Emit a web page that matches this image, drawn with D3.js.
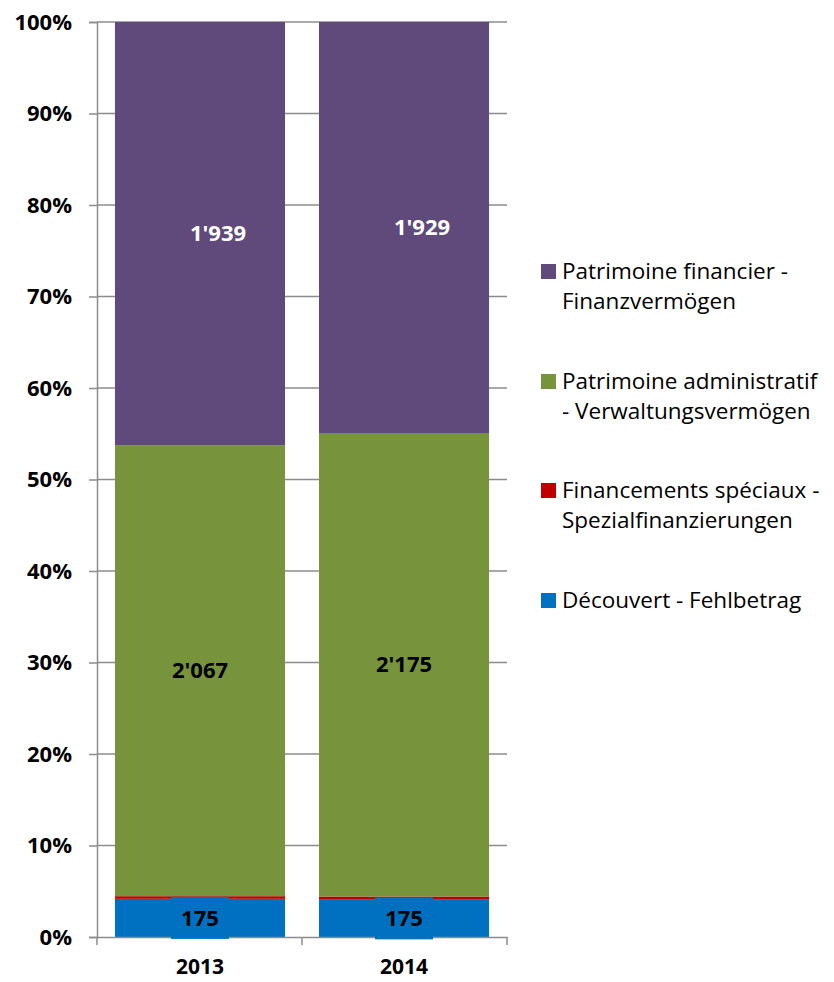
<!DOCTYPE html>
<html>
<head>
<meta charset="utf-8">
<script src="https://cdn.jsdelivr.net/npm/d3@7"></script>
<style>
  body { margin: 0; background: #fff; }
  text { font-family: "Open Sans", sans-serif; }
</style>
</head>
<body>
<div id="chart-area"></div>
<script>
// values
const years = ["2013", "2014"]
const decouvert = [175, 175]
const financements = [12, 15]
const administratif = [2067, 2175]
const financier = [1939, 1929]
const tickPct = [0, 0.1, 0.2, 0.3, 0.4, 0.5, 0.6, 0.7, 0.8, 0.9, 1]

const seriesKeys = ["dec", "fin", "adm", "pf"]
const seriesNames = [
  ["Découvert - Fehlbetrag"],
  ["Financements spéciaux -", "Spezialfinanzierungen"],
  ["Patrimoine administratif", "- Verwaltungsvermögen"],
  ["Patrimoine financier -", "Finanzvermögen"]
]
const showLabel = [true, false, true, true]
const colors = ["#0070C0", "#C00000", "#77933C", "#604A7B"]

const W = 834, H = 982
const PLOT = {LEFT: 97, RIGHT: 507, TOP: 22, BOTTOM: 937}

const rows = years.map((y, i) => ({
  year: y, dec: decouvert[i], fin: financements[i], adm: administratif[i], pf: financier[i]
}))

const stacked = d3.stack().keys(seriesKeys).offset(d3.stackOffsetExpand)(rows)

const fmt = v => d3.format(",")(v).replace(/,/g, "'")

const svg = d3.select("#chart-area").append("svg")
  .attr("width", W)
  .attr("height", H)

const x = d3.scaleBand()
  .domain(years)
  .range([PLOT.LEFT, PLOT.RIGHT])
  .paddingInner(0.1667)
  .paddingOuter(0.088)

const y = d3.scaleLinear()
  .domain([0, 1])
  .range([PLOT.BOTTOM, PLOT.TOP])

// gridlines
svg.append("g")
  .selectAll("line")
  .data(tickPct.slice(1))
  .enter().append("line")
  .attr("x1", PLOT.LEFT).attr("x2", PLOT.RIGHT)
  .attr("y1", d => y(d)).attr("y2", d => y(d))
  .attr("stroke", "#8c8c8c")
  .attr("stroke-width", 1.5)

// bars
const layers = svg.append("g").selectAll("g")
  .data(stacked)
  .enter().append("g")
  .attr("fill", (d, i) => colors[i])

layers.selectAll("rect")
  .data(d => d)
  .enter().append("rect")
  .attr("x", d => x(d.data.year))
  .attr("width", x.bandwidth())
  .attr("y", d => y(d[1]))
  .attr("height", d => y(d[0]) - y(d[1]))

// axes
const yAxis = svg.append("g")
  .attr("transform", `translate(${PLOT.LEFT},0)`)
  .call(d3.axisLeft(y).tickValues(tickPct).tickFormat(d3.format(".0%")).tickSize(8).tickPadding(17))
yAxis.select(".domain").attr("stroke", "#8c8c8c").attr("stroke-width", 1.5)
yAxis.selectAll(".tick line").attr("stroke", "#8c8c8c").attr("stroke-width", 1.5)
yAxis.selectAll(".tick text")
  .attr("font-size", "22px").attr("font-weight", "bold").attr("fill", "#000")
  .attr("font-family", "'Open Sans', sans-serif")

const xAxis = svg.append("g")
  .attr("transform", `translate(0,${PLOT.BOTTOM})`)
  .call(d3.axisBottom(x).tickSize(0).tickPadding(22))
xAxis.select(".domain").attr("stroke", "#8c8c8c").attr("stroke-width", 1.5)
xAxis.selectAll(".tick text")
  .attr("font-size", "21px").attr("font-weight", "bold").attr("fill", "#000")
  .attr("font-family", "'Open Sans', sans-serif")

// category separators on the x axis
const sepX = [PLOT.LEFT, (x(years[0]) + x.bandwidth() + x(years[1])) / 2, PLOT.RIGHT]
xAxis.selectAll(".sep")
  .data(sepX)
  .enter().append("line")
  .attr("class", "sep")
  .attr("x1", d => d).attr("x2", d => d)
  .attr("y1", 0).attr("y2", 8)
  .attr("stroke", "#8c8c8c").attr("stroke-width", 1.5)

// value labels
stacked.forEach((layer, i) => {
  if (!showLabel[i]) return
  layer.forEach(d => {
    const cx = x(d.data.year) + x.bandwidth() / 2 + (i === 3 ? 18 : 0)
    const cy = (y(d[0]) + y(d[1])) / 2
    const g = svg.append("g")
    if (i === 0) {
      g.append("rect")
        .attr("x", cx - 29).attr("y", cy - 21)
        .attr("width", 58).attr("height", 42)
        .attr("fill", colors[0])
    }
    g.append("text")
      .attr("x", cx).attr("y", cy)
      .attr("dy", "0.35em")
      .attr("text-anchor", "middle")
      .attr("font-size", "22px")
      .attr("font-weight", "bold")
      .attr("fill", i === 3 ? "#fff" : "#000")
      .text(fmt(d.data[layer.key]))
  })
})

// legend (top entry first)
const legendY = [600, 490, 381, 271]
const legend = svg.append("g")
seriesNames.forEach((lines, i) => {
  const lg = legend.append("g").attr("transform", `translate(541, ${legendY[i]})`)
  lg.append("rect")
    .attr("x", 0).attr("y", -7)
    .attr("width", 15).attr("height", 15)
    .attr("fill", colors[i])
  lines.forEach((ln, k) => {
    lg.append("text")
      .attr("x", 21).attr("y", k * 30)
      .attr("dy", "0.35em")
      .attr("font-size", "22.5px")
      .attr("fill", "#000")
      .text(ln)
  })
})
</script>
</body>
</html>
